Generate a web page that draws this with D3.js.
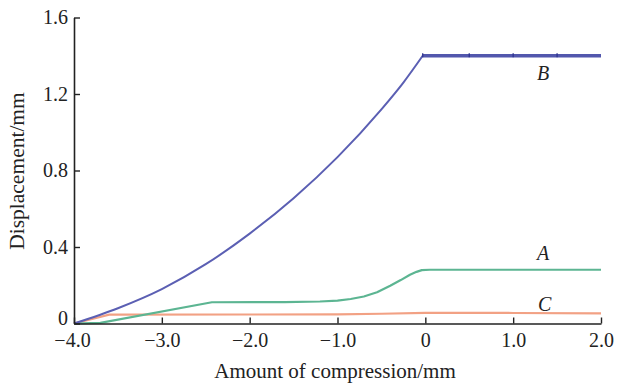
<!DOCTYPE html>
<html>
<head>
<meta charset="utf-8">
<script src="https://cdn.jsdelivr.net/npm/d3@7"></script>
<style>
  html, body { margin: 0; padding: 0; background: #fff; }
  svg { display: block; }
  text { font-family: "Liberation Serif", "Times New Roman", serif; fill: #222; }
</style>
</head>
<body>
<svg id="chart" width="617" height="384"></svg>
<script>
// Displacement versus amount of compression for three locations A, B, C
const xTicks = [-4, -3, -2, -1, 0, 1, 2];
const xTickLabels = ["\u22124.0", "\u22123.0", "\u22122.0", "\u22121.0", "0", "1.0", "2.0"];
const yTicks = [0, 0.4, 0.8, 1.2, 1.6];
const yTickLabels = ["0", "0.4", "0.8", "1.2", "1.6"];

const compressionB = [-4, -3.5, -3, -2.5, -2, -1.5, -1, -0.5, -0.25, -0.03, 0.5, 1, 1.5, 2];
const displacementB = [0, 0.08, 0.18, 0.31, 0.47, 0.655, 0.87, 1.12, 1.26, 1.40, 1.40, 1.40, 1.40, 1.40];

const compressionA = [-4, -3.7, -2.43, -1.6, -1.2, -1.0, -0.85, -0.7, -0.55, -0.4, -0.28, -0.175, -0.1, -0.04, 0.05, 1, 2];
const displacementA = [0, 0.003, 0.111, 0.112, 0.115, 0.12, 0.128, 0.141, 0.163, 0.197, 0.227, 0.255, 0.27, 0.279, 0.281, 0.281, 0.281];

const compressionC = [-4, -3.6, -2, -1, -0.5, 0, 1, 2];
const displacementC = [0, 0.046, 0.047, 0.048, 0.051, 0.056, 0.055, 0.053];

const seriesLabels = ["A", "B", "C"];
const labelAt = [[1.34, 0.332], [1.34, 1.273], [1.36, 0.065]];

const svg = d3.select("#chart");
const x = d3.scaleLinear().domain([-4, 2]).range([74, 601]);
const y = d3.scaleLinear().domain([0, 1.6]).range([323.5, 17.5]);

const line = d3.line().x(d => x(d[0])).y(d => y(d[1]));
const curve = d3.line().x(d => x(d[0])).y(d => y(d[1])).curve(d3.curveMonotoneX);

const C = d3.zip(compressionC, displacementC);
const A = d3.zip(compressionA, displacementA);
const B = d3.zip(compressionB, displacementB);

// Curve C and curve A
svg.append("path").datum(C).attr("d", line)
  .attr("fill", "none").attr("stroke", "#f2a184").attr("stroke-width", 2.2);
svg.append("path").datum(A).attr("d", line)
  .attr("fill", "none").attr("stroke", "#5cb592").attr("stroke-width", 2.2)
  .attr("stroke-linejoin", "round");

// Curve B: rising branch, then the plateau
const peak = compressionB.indexOf(-0.03);
const rise = B.slice(0, peak + 1);
const flat = B.slice(peak);
svg.append("path").datum(rise).attr("d", curve)
  .attr("fill", "none").attr("stroke", "#5b5fb3").attr("stroke-width", 2);
svg.append("path").datum(flat).attr("d", line)
  .attr("fill", "none").attr("stroke", "#5257ad").attr("stroke-width", 3.6);
// small markers along the plateau
svg.append("g").selectAll("line").data(flat.slice(0, 4)).join("line")
  .attr("x1", d => x(d[0])).attr("x2", d => x(d[0]))
  .attr("y1", d => y(d[1]) - 2.5).attr("y2", d => y(d[1]) + 1.5)
  .attr("stroke", "#2e3390").attr("stroke-width", 1.3);

// Axes
const xAxis = d3.axisBottom(x).tickValues(xTicks)
  .tickFormat((d, i) => xTickLabels[i]).tickSizeInner(-6).tickSizeOuter(0).tickPadding(9);
const yAxis = d3.axisLeft(y).tickValues(yTicks)
  .tickFormat((d, i) => yTickLabels[i]).tickSizeInner(-6).tickSizeOuter(0).tickPadding(6);

const gx = svg.append("g").attr("transform", `translate(0,${y(0)})`).call(xAxis);
const gy = svg.append("g").attr("transform", `translate(${x(-4)},0)`).call(yAxis);
[gx, gy].forEach(g => {
  g.select(".domain").attr("stroke", "#222").attr("stroke-width", 1.6);
  g.selectAll(".tick line").attr("stroke", "#222").attr("stroke-width", 1.4);
  g.selectAll(".tick text").attr("font-size", 20).attr("fill", "#222")
    .attr("font-family", "'Liberation Serif', serif");
});
gy.selectAll(".tick text").attr("dy", d => d === 0 ? "0.05em" : "0.3em");
gx.selectAll(".tick text").attr("dx", (d, i) => i === 0 ? "-0.1em" : 0);

// Axis titles
svg.append("text").attr("x", 335).attr("y", 378).attr("text-anchor", "middle")
  .attr("font-size", 21).text("Amount of compression/mm");
svg.append("text").attr("transform", "translate(24,171) rotate(-90)")
  .attr("text-anchor", "middle").attr("font-size", 21.5).text("Displacement/mm");

// Series labels
svg.append("g").selectAll("text").data(seriesLabels).join("text")
  .attr("x", (d, i) => x(labelAt[i][0]))
  .attr("y", (d, i) => y(labelAt[i][1]))
  .attr("text-anchor", "middle").attr("font-style", "italic").attr("font-size", 20)
  .text(d => d);
</script>
</body>
</html>
